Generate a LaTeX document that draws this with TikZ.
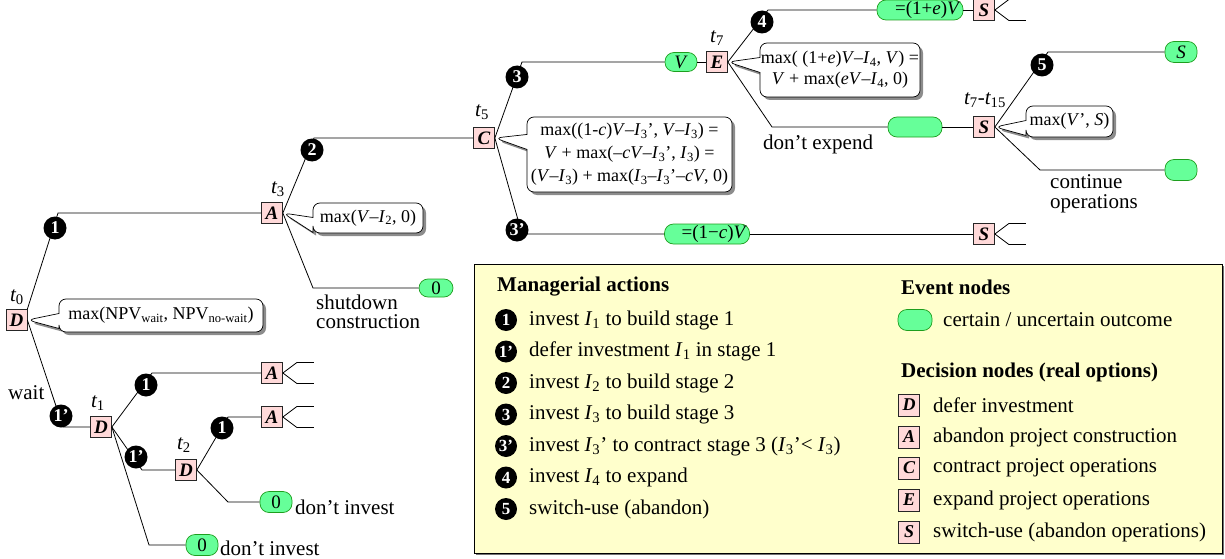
\documentclass[tikz,border=0pt]{standalone}
\usepackage{fontspec}
\setmainfont{Liberation Serif}
\usetikzlibrary{shapes.callouts,shadows}
\definecolor{boxpink}{HTML}{FFD9D9}
\definecolor{pillgreen}{HTML}{66FF99}
\definecolor{pillline}{HTML}{1E9E1E}
\definecolor{legyellow}{HTML}{FFFFCC}
\newcommand{\tsub}[1]{\textsubscript{\upshape #1}}
\newcommand{\Iv}[1]{\textit{I}\textsubscript{\upshape #1}}
\begin{document}
\begin{tikzpicture}[x=1pt,y=-1pt,
  conn/.style={draw=black, line width=0.8pt},
  dbox/.style={draw=black!85, fill=boxpink, line width=0.7pt, minimum width=21pt, minimum height=21pt, inner sep=0pt, font=\fontsize{19}{19}\selectfont\bfseries\itshape},
  lbox/.style={dbox, minimum width=21pt, minimum height=22pt, font=\fontsize{18}{18}\selectfont\bfseries\itshape},
  pill/.style={draw=pillline, fill=pillgreen, line width=0.7pt, rounded corners=9pt, minimum width=32pt, minimum height=20pt, inner sep=0pt, font=\fontsize{19}{19}\selectfont},
  act/.style={circle, fill=black, minimum size=23pt, inner sep=0pt, text=white, font=\fontsize{18}{18}\selectfont\bfseries},
  lact/.style={act, minimum size=22pt, font=\fontsize{17}{17}\selectfont\bfseries},
  tlab/.style={inner sep=0pt, font=\fontsize{21}{21}\selectfont\itshape},
  lab/.style={anchor=west, inner sep=0pt, align=left, font=\fontsize{21}{19.5}\selectfont},
  head/.style={anchor=west, inner sep=0pt, font=\fontsize{21}{21}\selectfont\bfseries},
  note/.style={rectangle callout, draw=black, fill=white, line width=0.7pt, rounded corners=7pt, callout pointer width=15pt, drop shadow={shadow xshift=3pt, shadow yshift=-3pt, fill=black!45, opacity=1}, inner sep=0pt, align=center, font=\fontsize{18}{21}\selectfont},
]
\useasboundingbox (0,0) rectangle (1225,559);

% legend frame
\node[draw=black, line width=0.7pt, fill=legyellow, minimum width=748pt, minimum height=289pt, inner sep=0pt, drop shadow={shadow xshift=2pt, shadow yshift=-2pt, fill=black!55, opacity=1}] (leg) at (848,408.5) {};

% decision nodes
\node[dbox] (D0) at (16.5,320) {D};
\node[dbox] (A3) at (272,213) {A};
\node[dbox] (C5) at (484,138) {C};
\node[dbox] (E7) at (717,62) {E};
\node[dbox] (St) at (984,10) {S};
\node[dbox] (Sm) at (984,127) {S};
\node[dbox] (Sb) at (984,234) {S};
\node[dbox] (D1) at (101,427) {D};
\node[dbox] (D2) at (186,470) {D};
\node[dbox] (A1) at (272,373) {A};
\node[dbox] (A2) at (272,417) {A};

% event nodes
\node[pill, minimum width=34pt, minimum height=18pt] (z0a) at (436,288) {0};
\node[pill, minimum height=19pt] (pV) at (681,62) {\textit{V}};
\node[pill, minimum width=86pt, text width=81pt, align=right] (pE) at (920,10) {=(1+\textit{e})\textit{V}};
\node[pill, minimum width=54pt] (pX) at (915,127) {};
\node[pill, minimum height=21pt] (pS) at (1181,52) {\textit{S}};
\node[pill, minimum height=21pt] (pY) at (1181,170) {};
\node[pill, minimum width=85pt, text width=80pt, align=right] (pC) at (707,234) {=(1−\textit{c})\textit{V}};
\node[pill, minimum height=21pt] (z0b) at (202,545) {0};
\node[pill, minimum height=21pt] (z0c) at (276,502) {0};

% time labels
\node[tlab] (tl0) at (17,297) {t\tsub{0}};
\node[tlab] (tl3) at (278,189) {t\tsub{3}};
\node[tlab] (tl5) at (482,112) {t\tsub{5}};
\node[tlab] (tl7) at (717,38) {t\tsub{7}};
\node[tlab] (tl715) at (985,100) {t\tsub{7}-t\tsub{15}};
\node[tlab] (tl1) at (98,403) {t\tsub{1}};
\node[tlab] (tl2) at (184,445) {t\tsub{2}};

% corners
\coordinate (k1) at (58,213);
\coordinate (k2) at (313,288);
\coordinate (k3) at (314,138);
\coordinate (k4) at (522,62);
\coordinate (k5) at (522,234);
\coordinate (k6) at (768,10);
\coordinate (k7) at (772,127);
\coordinate (k8) at (1048,52);
\coordinate (k9) at (1040,170);
\coordinate (k10) at (63,427);
\coordinate (k11) at (152,373);
\coordinate (k12) at (142,470);
\coordinate (k13) at (149,545);
\coordinate (k14) at (228,417);
\coordinate (k15) at (228,502);

% connectors
\draw[conn] (D0.north east) -- (k1) -- (A3.west);
\draw[conn] (A3.east) -- (k3) -- (C5.west);
\draw[conn] (A3.east) -- (k2) -- (z0a.west);
\draw[conn] (C5.east) -- (k4) -- (pV.west);
\draw[conn] (pV.east) -- (E7.west);
\draw[conn] (C5.east) -- (k5) -- (pC.west);
\draw[conn] (pC.east) -- (Sb.west);
\draw[conn] (E7.east) -- (k6) -- (pE.west);
\draw[conn] (pE.east) -- (St.west);
\draw[conn] (E7.east) -- (k7) -- (pX.west);
\draw[conn] (pX.east) -- (Sm.west);
\draw[conn] (Sm.east) -- (k8) -- (pS.west);
\draw[conn] (Sm.east) -- (k9) -- (pY.west);
\draw[conn] (D0.east) -- (k10) -- (D1.west);
\draw[conn] (D1.east) -- (k11) -- (A1.west);
\draw[conn] (D1.east) -- (k12) -- (D2.west);
\draw[conn] (D1.east) -- (k13) -- (z0b.west);
\draw[conn] (D2.east) -- (k14) -- (A2.west);
\draw[conn] (D2.east) -- (k15) -- (z0c.west);
\foreach \n in {St,Sb,A1,A2} {
  \draw[conn] (\n.east) -- ++(14,-10.5) -- ++(17,0);
  \draw[conn] (\n.east) -- ++(14,10.5) -- ++(17,0);
}

% action circles
\node[act] (c1) at (55,228) {1};
\node[act] (c2) at (312,150) {2};
\node[act] (c3) at (517,77) {3};
\node[act] (c3p) at (517,230) {3’};
\node[act] (c4) at (762,22) {4};
\node[act] (c5) at (1042,65) {5};
\node[act] (c1p) at (61,416) {1’};
\node[act] (c1b) at (146,385) {1};
\node[act] (c1pb) at (136,457) {1’};
\node[act] (c1c) at (222,428) {1};

% callouts
\node[note, minimum width=204pt, minimum height=33pt, callout absolute pointer={(D0.east)}] (nD) at (161,315.5) {max(NPV\textsubscript{wait}, NPV\textsubscript{no-wait})};
\node[note, minimum width=110pt, minimum height=30pt, callout absolute pointer={(A3.east)}] (nA) at (368,218) {max(\textit{V}–\Iv{2}, 0)};
\node[note, minimum width=205pt, minimum height=75pt, font=\fontsize{18}{23}\selectfont, callout absolute pointer={(C5.east)}] (nC) at (629.5,154.5) {max((1-\textit{c})\textit{V}–\Iv{3}’, \textit{V}–\Iv{3}) =\\ \textit{V} + max(–\textit{cV}–\Iv{3}’, \Iv{3}) =\\ (\textit{V}–\Iv{3}) + max(\Iv{3}–\Iv{3}’–\textit{cV}, 0)};
\node[note, minimum width=160pt, minimum height=54pt, callout absolute pointer={(E7.east)}] (nE) at (840,70) {max( (1+\textit{e})\textit{V}–\Iv{4}, \textit{V}) =\\ \textit{V} + max(\textit{eV}–\Iv{4}, 0)};
\node[note, minimum width=87pt, minimum height=31pt, callout absolute pointer={(Sm.east)}] (nS) at (1069.5,121.5) {max(\textit{V}’, \textit{S})};

% branch labels
\node[lab] (lshut) at (316,312) {shutdown\\construction};
\node[lab] (lexp) at (763,144) {don’t expend};
\node[lab] (lcont) at (1050,194) {continue\\operations};
\node[lab] (lwait) at (8,393) {wait};
\node[lab] (linv1) at (220,548) {don’t invest};
\node[lab] (linv2) at (295,507) {don’t invest};

% legend: managerial actions
\node[head] (hM) at (497,287) {Managerial actions};
\node[lact] (m1) at (506,320) {1};
\node[lab] (m1t) at (529,320) {invest \Iv{1} to build stage 1};
\node[lact] (m1p) at (506,351.5) {1’};
\node[lab] (m1pt) at (529,351.5) {defer investment \Iv{1} in stage 1};
\node[lact] (m2) at (506,383) {2};
\node[lab] (m2t) at (529,383) {invest \Iv{2} to build stage 2};
\node[lact] (m3) at (506,414.5) {3};
\node[lab] (m3t) at (529,414.5) {invest \Iv{3} to build stage 3};
\node[lact] (m3p) at (506,446) {3’};
\node[lab] (m3pt) at (529,446) {invest \Iv{3}’ to contract stage 3 (\Iv{3}’< \Iv{3})};
\node[lact] (m4) at (506,477.5) {4};
\node[lab] (m4t) at (529,477.5) {invest \Iv{4} to expand};
\node[lact] (m5) at (506,509) {5};
\node[lab] (m5t) at (529,509) {switch-use (abandon)};

% legend: event and decision nodes
\node[head] (hE) at (901,287) {Event nodes};
\node[pill, minimum width=34pt, minimum height=21pt] (lp) at (915,320) {};
\node[lab] (lpt) at (943,320) {certain / uncertain outcome};
\node[head] (hDn) at (901,372) {Decision nodes (real options)};
\node[lbox] (bD) at (909,405) {D};
\node[lab] (bDt) at (933,405) {defer investment};
\node[lbox] (bA) at (909,437) {A};
\node[lab] (bAt) at (933,437) {abandon project construction};
\node[lbox] (bC) at (909,468) {C};
\node[lab] (bCt) at (933,468) {contract project operations};
\node[lbox] (bE) at (909,500) {E};
\node[lab] (bEt) at (933,500) {expand project operations};
\node[lbox] (bS) at (909,532) {S};
\node[lab] (bSt) at (933,532) {switch-use (abandon operations)};
\end{tikzpicture}
\end{document}
